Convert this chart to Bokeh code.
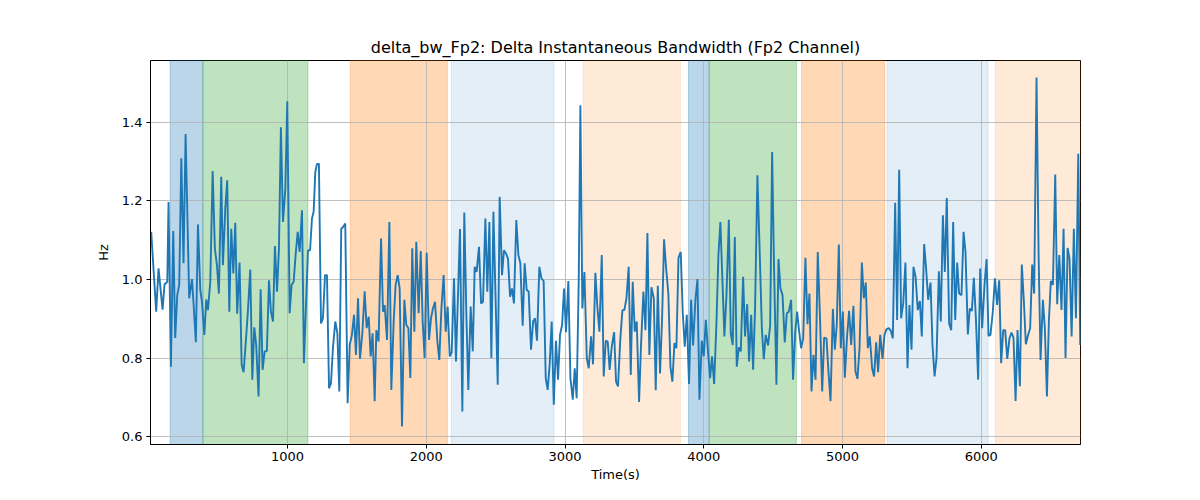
from bokeh.plotting import figure
from bokeh.models import Range1d, BoxAnnotation, PrintfTickFormatter
from bokeh.embed import file_html
from bokeh.resources import INLINE

# ---- data ----
time_s = [
    17, 53, 70, 99, 113, 133, 142, 159, 176, 190, 205, 219, 234, 250, 265, 291, 311, 323, 339, 354,
    371, 383, 400, 414, 426, 443, 460, 476, 491, 505, 522, 534, 551, 565, 580, 594, 609, 623, 637, 654,
    669, 683, 700, 714, 731, 746, 760, 774, 791, 806, 820, 835,
    851, 866, 880, 895, 909, 924, 938, 952, 967, 984, 998, 1015, 1029, 1044, 1058, 1073, 1087, 1104, 1118, 1147,
    1162, 1176, 1188, 1200, 1212, 1226, 1241, 1255, 1270, 1284, 1299, 1313, 1327, 1344, 1359, 1373, 1387, 1402,
    1416, 1433, 1448, 1464, 1479, 1493, 1508, 1522, 1539, 1556, 1570, 1585, 1599, 1613, 1628, 1640, 1656,
    1674, 1688, 1700, 1717, 1734, 1748, 1765, 1779, 1794, 1808, 1825, 1842, 1856, 1871, 1885, 1899, 1914, 1928,
    1945, 1960, 1974, 1988, 2003, 2020, 2034, 2048, 2063, 2080, 2094, 2109, 2125, 2140, 2154, 2169, 2183, 2200,
    2214, 2243, 2260, 2274, 2289, 2303, 2320, 2335, 2349, 2363, 2380, 2395, 2409, 2426, 2440, 2455, 2469, 2484,
    2515, 2529, 2546, 2560, 2575, 2589, 2604, 2618, 2632, 2649, 2664, 2678, 2695, 2709, 2724, 2738, 2755, 2770,
    2784, 2798, 2815, 2830, 2846, 2861, 2875, 2890, 2904, 2919, 2935, 2950, 2964, 2979, 2993, 3007, 3024, 3039,
    3056, 3070, 3084, 3099, 3111, 3125, 3140, 3157, 3171, 3188, 3202, 3219, 3233, 3248, 3265, 3279, 3294, 3308, 3322,
    3337, 3354, 3368, 3382, 3399, 3414, 3428, 3443, 3459, 3474, 3488, 3503, 3517, 3534, 3548, 3565, 3580, 3594,
    3608, 3623, 3640, 3654, 3669, 3685, 3700, 3714, 3729, 3745, 3760, 3774, 3789, 3803, 3818, 3834, 3849, 3863,
    3878, 3894, 3909, 3923, 3940, 3955, 3969, 3986, 4000, 4015, 4029, 4046, 4060, 4075, 4092, 4106, 4120, 4149,
    4164, 4181, 4195, 4209, 4224, 4238, 4253, 4267, 4284, 4298, 4313, 4327, 4342, 4356, 4370, 4387, 4402, 4419,
    4433, 4447, 4464, 4479, 4493, 4507, 4524, 4539, 4553, 4568, 4584, 4599, 4613, 4630, 4644, 4659, 4673, 4688,
    4702, 4717, 4733, 4748, 4762, 4777, 4791, 4806, 4822, 4839, 4854, 4868, 4885, 4899, 4914, 4931, 4945, 4959, 4974,
    4988, 5003, 5017, 5034, 5048, 5063, 5079, 5094, 5108, 5123, 5140, 5154, 5168, 5183, 5197, 5214, 5228, 5243,
    5257, 5272, 5289, 5303, 5317, 5334, 5349, 5363, 5380, 5394, 5409, 5423, 5438, 5454, 5469, 5483, 5498, 5512,
    5527, 5543, 5558, 5572, 5589, 5603, 5618, 5635, 5649, 5664, 5678, 5695, 5709, 5724, 5738, 5752, 5769, 5784, 5798,
    5813, 5827, 5841, 5858, 5873, 5887, 5904, 5918, 5933, 5947, 5962, 5978, 5993, 6007, 6024, 6039, 6053, 6067,
    6084, 6099, 6115, 6130, 6144, 6159, 6173, 6188, 6204, 6219, 6233, 6248, 6262, 6279, 6293, 6308, 6322, 6339,
    6353, 6368, 6382, 6399, 6414, 6428, 6445, 6459, 6474, 6488, 6502, 6517, 6534, 6548, 6563, 6579, 6594, 6608,
    6623, 6637, 6652, 6668, 6683, 6700, 6714,
]
bw_hz = [
    1.121, 0.918, 1.028, 0.923, 0.987, 0.994, 1.197, 0.778, 1.123, 0.851, 0.960, 0.986, 1.308, 1.041, 1.370, 0.952, 1.001, 0.935, 0.840, 1.140,
    0.973, 0.943, 0.859, 0.949, 0.922, 0.994, 1.276, 1.079, 1.036, 0.964, 1.261, 1.036, 1.180, 1.252, 0.918, 1.129, 1.015, 1.144, 0.913, 1.043,
    0.783, 0.764, 0.846, 0.918, 1.025, 0.745, 0.878, 0.833, 0.702, 0.975, 0.770, 0.817,
    0.818, 0.998, 0.918, 0.893, 1.085, 0.969, 1.079, 1.387, 1.146, 1.231, 1.453, 0.914, 0.986, 0.994, 1.062, 1.121, 1.070, 1.176, 0.787, 1.074,
    1.074, 1.155, 1.172, 1.273, 1.294, 1.294, 0.888, 0.901, 1.011, 1.011, 0.723, 0.736, 0.825, 0.893, 0.863, 0.715, 1.129, 1.134,
    1.142, 0.685, 0.833, 0.859, 0.910, 0.808, 0.952, 0.798, 0.863, 0.970, 0.876, 0.905, 0.804, 0.863, 0.690, 0.871, 0.842,
    1.104, 0.918, 0.935, 0.846, 1.146, 0.719, 0.893, 0.986, 1.011, 0.977, 0.626, 0.948, 0.884, 0.876, 0.749, 1.079, 0.867, 1.096,
    0.914, 1.072, 0.893, 0.800, 1.068, 0.846, 0.901, 0.926, 0.943, 0.842, 0.795, 0.926, 1.011, 0.867, 0.931, 0.804, 0.814, 1.003,
    0.791, 1.128, 0.664, 1.170, 0.910, 0.719, 0.931, 0.817, 1.032, 1.019, 1.083, 0.939, 0.943, 1.155, 0.969, 1.146, 0.800, 1.172,
    0.732, 1.210, 1.011, 1.074, 1.066, 1.053, 0.956, 0.977, 0.939, 1.151, 1.062, 1.041, 0.882, 1.041, 0.973, 0.969, 0.821, 0.893,
    0.901, 0.844, 1.032, 1.003, 0.996, 0.749, 0.719, 0.787, 0.893, 0.681, 0.844, 0.745, 0.859, 0.884, 0.977, 0.866, 0.996, 0.749,
    0.694, 0.774, 0.698, 0.998, 1.443, 0.926, 1.019, 0.800, 0.774, 0.855, 0.784, 1.017, 0.931, 0.867, 1.062, 0.753, 0.844, 0.842, 0.770,
    0.829, 0.866, 0.740, 0.728, 0.850, 0.922, 0.922, 0.952, 1.032, 0.757, 0.994, 0.867, 0.893, 0.688, 0.833, 0.969, 0.871, 1.118,
    0.808, 0.980, 0.952, 0.718, 0.984, 0.761, 0.901, 1.102, 1.028, 0.964, 0.778, 0.740, 0.838, 0.825, 1.055, 1.070, 0.914, 0.829,
    0.910, 0.734, 0.948, 0.832, 0.948, 1.001, 0.694, 0.844, 0.804, 0.897, 0.825, 0.749, 0.804, 0.734, 0.893, 1.062, 1.146, 0.855,
    0.960, 1.152, 0.863, 0.833, 1.108, 0.778, 0.827, 0.817, 1.007, 0.855, 0.937, 0.791, 0.910, 0.770, 0.926, 1.265, 1.087, 0.876,
    0.797, 0.859, 0.832, 0.884, 1.324, 1.028, 0.732, 1.052, 0.977, 0.960, 0.840, 0.914, 0.918, 0.948, 0.745, 0.863, 0.918, 0.867,
    0.825, 0.850, 1.055, 0.886, 0.964, 0.715, 0.808, 0.745, 1.070, 0.893, 0.715, 0.852, 0.850, 0.766, 0.690, 0.925, 0.821, 0.884, 1.089,
    0.825, 0.918, 0.750, 0.859, 0.920, 0.833, 0.933, 0.766, 0.747, 0.825, 1.043, 0.952, 0.992, 0.825, 0.855, 0.774, 0.753, 0.840,
    0.764, 0.859, 0.798, 0.859, 0.873, 0.876, 0.869, 0.850, 1.195, 0.897, 1.279, 0.901, 0.939, 1.043, 0.774, 0.935, 0.821, 1.032,
    1.007, 0.922, 0.945, 0.855, 1.090, 1.028, 0.948, 0.992, 0.833, 0.753, 0.800, 1.021, 0.893, 1.163, 1.019, 1.207, 0.888, 0.871, 1.146,
    0.897, 1.043, 0.964, 0.960, 1.121, 1.070, 0.860, 0.926, 0.920, 1.004, 0.901, 0.745, 1.028, 0.876, 0.986, 1.052, 0.856, 0.859,
    0.918, 1.003, 0.935, 0.998, 0.787, 0.871, 0.871, 0.798, 0.850, 0.865, 0.852, 0.691, 0.871, 0.728, 1.038, 0.943, 0.835, 0.859,
    0.876, 1.038, 0.964, 1.514, 1.062, 0.795, 0.948, 0.876, 0.702, 0.893, 0.996, 0.986, 1.267, 0.937, 1.062, 0.922, 1.129, 0.800,
    1.080, 1.052, 0.855, 1.129, 0.901, 1.320, 0.833,
]

span_start = [154, 390, 1452, 2181, 3132, 3890, 4039, 4705, 5322, 6103]
span_end = [390, 1147, 2152, 2921, 3832, 4039, 4668, 5305, 6050, 6716]
span_color = ["#1f77b4", "#2ca02c", "#ff7f0e", "#1f77b4", "#ff7f0e",
              "#1f77b4", "#2ca02c", "#ff7f0e", "#1f77b4", "#ff7f0e"]
span_alpha = [0.3, 0.3, 0.3, 0.12, 0.16, 0.3, 0.3, 0.3, 0.12, 0.16]

x_ticks = [1000, 2000, 3000, 4000, 5000, 6000]
y_ticks = [0.6, 0.8, 1.0, 1.2, 1.4]

FONT = "DejaVu Sans"

p = figure(width=1184, height=484, output_backend="svg", toolbar_location=None,
           x_range=Range1d(12, 6716), y_range=Range1d(0.58, 1.557),
           title="delta_bw_Fp2: Delta Instantaneous Bandwidth (Fp2 Channel)",
           min_border_left=150, min_border_right=104, min_border_top=60, min_border_bottom=39)

p.title.align = "center"
p.title.text_font = FONT
p.title.text_font_size = "16px"
p.title.text_font_style = "normal"
p.title.text_color = "black"
p.title.standoff = 8

for s, e, c, a in zip(span_start, span_end, span_color, span_alpha):
    p.add_layout(BoxAnnotation(left=s, right=e, fill_color=c, fill_alpha=a,
                               line_color=c, line_alpha=a, line_width=1, level="image"))

p.line(time_s, bw_hz, line_color="#1f77b4", line_width=1.9)

p.xaxis.ticker = x_ticks
p.yaxis.ticker = y_ticks
p.yaxis.formatter = PrintfTickFormatter(format="%.1f")
p.xaxis.axis_label = "Time(s)"
p.yaxis.axis_label = "Hz"
for ax in (p.xaxis, p.yaxis):
    ax.axis_label_text_font = FONT
    ax.axis_label_text_font_size = "13px"
    ax.axis_label_text_font_style = "normal"
    ax.axis_label_text_color = "black"
    ax.major_label_text_font = FONT
    ax.major_label_text_font_size = "13px"
    ax.major_label_text_color = "black"
    ax.axis_line_color = "black"
    ax.major_tick_line_color = "black"
    ax.major_tick_in = 0
    ax.major_tick_out = 4
    ax.minor_tick_line_color = None
p.xaxis.major_label_standoff = 3
p.xaxis.axis_label_standoff = 3
p.yaxis.major_label_standoff = 4
p.yaxis.axis_label_standoff = 8

p.grid.grid_line_color = "#b0b0b0"
p.grid.grid_line_width = 0.8
p.outline_line_color = "black"
p.outline_line_width = 1
p.background_fill_color = "white"
p.border_fill_color = "white"

open("out.html", "w").write(file_html(p, INLINE))
